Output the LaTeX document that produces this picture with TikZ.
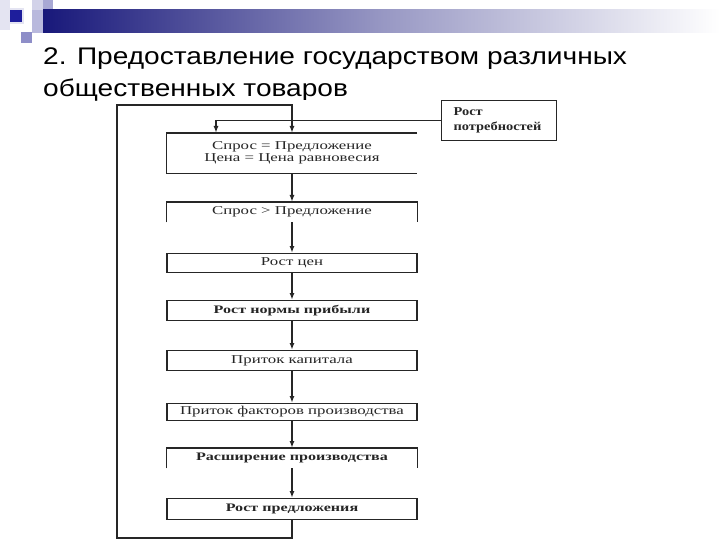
\documentclass[tikz,border=0pt]{standalone}
\usepackage{fontspec}
\usetikzlibrary{arrows.meta}
\newfontfamily\titlefont[FakeStretch=1.17]{Liberation Sans}
\newfontfamily\diagfont[FakeStretch=1.4]{Liberation Serif}
\newfontfamily\needfont[FakeStretch=1.2]{Liberation Serif}
\definecolor{navy}{HTML}{18187A}
\definecolor{ink}{HTML}{262626}
\definecolor{sqdark}{HTML}{1E1E9C}
\definecolor{sqlight}{HTML}{E4E4F2}
\definecolor{sqmid}{HTML}{A8A8D4}
\definecolor{sqlav}{HTML}{8E8EC8}
\begin{document}
\begin{tikzpicture}[x=1pt,y=-1pt,
  box/.style={minimum width=250pt, minimum height=20pt, inner sep=0pt, anchor=north,
    font=\diagfont\fontsize{12}{12}\selectfont, text=ink},
  boldbox/.style={box, font=\diagfont\bfseries\fontsize{11.5}{12}\selectfont},
  frame/.style={draw=ink, line width=1.2pt},
  link/.style={draw=ink, line width=1.4pt},
  arr/.style={link, -{Latex[length=7pt,width=5pt]}}]
\useasboundingbox (0,0) rectangle (720,540);
\fill[white] (0,0) rectangle (720,540);
% header decoration
\fill[sqlight] (0,0) rectangle (10,30);
\fill[sqlight] (8,8) rectangle (24,24);
\fill[sqdark] (10,10) rectangle (22,22);
\fill[sqlight!70!sqmid] (32,0) rectangle (43,10);
\fill[sqmid] (43,0) rectangle (53,10);
\fill[sqmid!80!white] (32,10) rectangle (43,33);
\shade[left color=navy, right color=white, middle color=navy!45!white] (43,10) rectangle (720,33);
\fill[sqlav] (21,32) rectangle (32,43);
% title
\node[anchor=base west, inner sep=0pt, font=\titlefont\fontsize{24}{32}\selectfont] (t1) at (43,65) {2. Предоставление государством различных};
\node[anchor=base west, inner sep=0pt, font=\titlefont\fontsize{24}{32}\selectfont] (t2) at (43,97) {общественных товаров};
\fill[white] (110,100) rectangle (560,540);
% boxes
\node[box, minimum height=40pt, align=center] (b1) at (292,133) {Спрос = Предложение\\Цена = Цена равновесия};
\node[box] (b2) at (292,202) {Спрос > Предложение};
\node[box, frame, minimum height=19pt] (b3) at (292,253) {Рост цен};
\node[boldbox, frame] (b4) at (292,300) {Рост нормы прибыли};
\node[box, frame] (b5) at (292,350) {Приток капитала};
\node[box, frame, minimum height=17pt] (b6) at (292,403) {Приток факторов производства};
\node[boldbox] (b7) at (292,448) {Расширение производства};
\node[boldbox, frame, minimum height=21pt] (b8) at (292,498) {Рост предложения};
\node[frame, anchor=north west, minimum height=40pt, text width=91pt, inner xsep=12pt, inner ysep=0pt, align=left,
  font=\needfont\bfseries\fontsize{12}{15}\selectfont, text=ink] (need) at (441,100) {Рост\\потребностей};
% partial frames
\draw[frame] (b1.north east) -- (b1.north west) -- (b1.south west) -- (b1.south east);
\draw[frame] (b2.south west) -- (b2.north west) -- (b2.north east) -- (b2.south east);
\draw[frame] (b7.south west) -- (b7.north west) -- (b7.north east) -- (b7.south east);
% connectors
\foreach \a/\b in {b1/b2,b2/b3,b3/b4,b4/b5,b5/b6,b6/b7,b7/b8}
  \draw[arr] (\a.south) -- (\b.north);
\coordinate (lb) at (117,538);
\coordinate (lt) at (117,105);
\draw[arr] (b8.south) |- (lb) -- (lt) -| (b1.north);
\draw[arr] (need.west) -| ([xshift=-76pt]b1.north);
\end{tikzpicture}
\end{document}
